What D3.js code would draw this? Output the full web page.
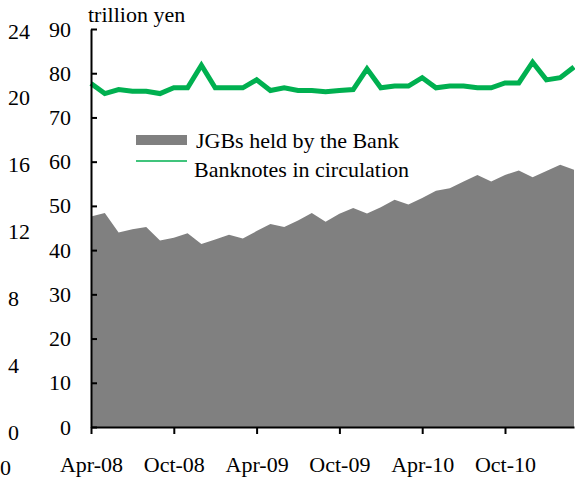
<!DOCTYPE html>
<html><head><meta charset="utf-8">
<script src="https://cdn.jsdelivr.net/npm/d3@7"></script>
<style>
html,body{margin:0;padding:0;background:#fff;overflow:hidden;}
text{font-family:"Liberation Serif","Times New Roman",serif;fill:#000;}
</style></head>
<body>
<svg id="chart" width="575" height="480"></svg>
<script>
const months = ["Apr-08","May-08","Jun-08","Jul-08","Aug-08","Sep-08","Oct-08","Nov-08","Dec-08","Jan-09","Feb-09","Mar-09",
  "Apr-09","May-09","Jun-09","Jul-09","Aug-09","Sep-09","Oct-09","Nov-09","Dec-09","Jan-10","Feb-10","Mar-10",
  "Apr-10","May-10","Jun-10","Jul-10","Aug-10","Sep-10","Oct-10","Nov-10","Dec-10","Jan-11","Feb-11","Mar-11"];
const jgbs = [47.6,48.4,44.0,44.7,45.2,42.2,42.8,43.8,41.4,42.4,43.5,42.6,
  44.3,45.9,45.2,46.7,48.4,46.4,48.2,49.5,48.3,49.7,51.4,50.3,
  51.8,53.4,54.0,55.5,57.0,55.5,57.0,58.0,56.5,57.9,59.3,58.2];
const banknotes = [77.7,75.4,76.3,75.9,75.9,75.4,76.7,76.7,81.8,76.7,76.7,76.7,
  78.5,76.1,76.7,76.1,76.1,75.8,76.1,76.3,81.0,76.7,77.1,77.1,
  79.0,76.7,77.1,77.1,76.7,76.7,77.8,77.8,82.5,78.5,79.0,81.4];
const xTickLabels = ["Apr-08","Oct-08","Apr-09","Oct-09","Apr-10","Oct-10"];
const yTicks = [0,10,20,30,40,50,60,70,80,90];
const outerTicks = [0,4,8,12,16,20,24];
const seriesNames = ["JGBs held by the Bank","Banknotes in circulation"];
const unitLabel = "trillion yen";

const FONT = "'Liberation Serif','Times New Roman',serif";
const svg = d3.select("#chart");
const x = d3.scalePoint().domain(months).range([91, 574]);
const y = d3.scaleLinear().domain([0, 90]).range([427, 29]);
const yOuter = d3.scaleLinear().domain([0, 24]).range([432, 31]);

// area
const area = d3.area().x(d => x(d.m)).y0(y(0)).y1(d => y(d.v));
svg.append("path").datum(months.map((m,i)=>({m, v:jgbs[i]})))
  .attr("d", area).attr("fill", "#808080");

// line
const line = d3.line().x(d => x(d.m)).y(d => y(d.v));
svg.append("path").datum(months.map((m,i)=>({m, v:banknotes[i]})))
  .attr("d", line).attr("fill","none").attr("stroke","#00b050")
  .attr("stroke-width",5).attr("stroke-linejoin","miter");

// y axis (inner)
const yAxis = svg.append("g").attr("transform","translate(91,0)")
  .call(d3.axisRight(y).tickValues(yTicks).tickSize(6).tickSizeOuter(0).tickFormat(d3.format("d")));
yAxis.attr("font-family", FONT);
yAxis.select(".domain").attr("stroke","#000").attr("stroke-width",2);
yAxis.selectAll(".tick line").attr("stroke","#000").attr("stroke-width",2);
yAxis.selectAll(".tick text").attr("x",-20).attr("text-anchor","end")
  .attr("font-size",22).attr("dy","0.32em").style("font-family",FONT);

// outer axis labels
const yo = svg.append("g").attr("transform","translate(8,0)")
  .call(d3.axisLeft(yOuter).tickValues(outerTicks).tickSize(0).tickFormat(d3.format("d")));
yo.attr("font-family", FONT);
yo.select(".domain").remove();
yo.selectAll(".tick text").attr("x",0).attr("text-anchor","start")
  .attr("font-size",22).attr("dy","0.32em").style("font-family",FONT);

// x axis
const xAxis = svg.append("g").attr("transform",`translate(0,${y(0)})`)
  .call(d3.axisBottom(x).tickValues(xTickLabels).tickSize(7).tickSizeOuter(0).tickPadding(22));
xAxis.attr("font-family", FONT);
xAxis.select(".domain").attr("stroke","#000").attr("stroke-width",2);
xAxis.selectAll(".tick line").attr("stroke","#000").attr("stroke-width",2);
xAxis.selectAll(".tick text").attr("font-size",22).style("font-family",FONT);

// stray label bottom-left
svg.append("text").attr("x",0).attr("y",475).attr("font-size",22).style("font-family",FONT).text("0");

// unit label
svg.append("text").attr("x",88).attr("y",22).attr("font-size",22).style("font-family",FONT).text(unitLabel);

// legend
const lg = svg.append("g");
lg.append("rect").attr("x",136).attr("y",135).attr("width",51).attr("height",10).attr("fill","#808080");
lg.append("text").attr("x",196).attr("y",148).attr("font-size",22).style("font-family",FONT).text(seriesNames[0]);
lg.append("line").attr("x1",136).attr("x2",187).attr("y1",161).attr("y2",161)
  .attr("stroke","#00b050").attr("stroke-width",1.5);
lg.append("text").attr("x",194).attr("y",177).attr("font-size",22).style("font-family",FONT).text(seriesNames[1]);
</script>
</body></html>
